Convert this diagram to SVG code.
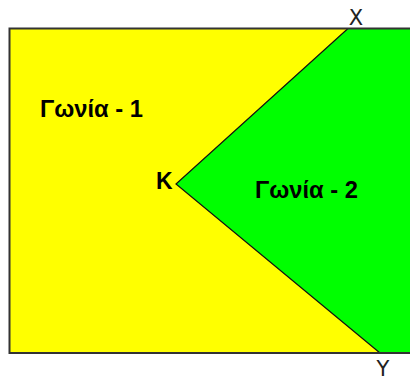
<svg xmlns="http://www.w3.org/2000/svg" width="410" height="383" viewBox="0 0 410 383">
<style>
.lbl{font-family:"Liberation Sans",Arial,sans-serif;font-weight:bold;font-size:23px;fill:#000}
.pt{font-family:"DejaVu Sans",sans-serif;font-weight:normal;font-size:21px;fill:#222}
</style>
<rect width="410" height="383" fill="#fff"/>
<g id="angle1">
<rect x="9.5" y="28.5" width="420" height="324.5" fill="#ffff00"/>
<text class="lbl" x="40" y="117" textLength="103" lengthAdjust="spacingAndGlyphs">Γωνία - 1</text>
</g>
<g id="angle2">
<polygon points="348,28.5 412,28.5 412,353 380,353 176,184" fill="#00ff00"/>
<text class="lbl" x="255" y="198" textLength="103" lengthAdjust="spacingAndGlyphs">Γωνία - 2</text>
</g>
<g id="connectors" fill="none" stroke="#111" stroke-width="1.2">
<polyline points="348,28.5 176,184 380,353"/>
</g>
<g id="frame">
<polyline points="412,28.5 9.5,28.5 9.5,353 412,353" fill="none" stroke="#333" stroke-width="2"/>
</g>
<g id="K"><text class="lbl" x="156" y="189" font-size="24">K</text></g>
<g id="X"><text class="pt" x="356" y="25" text-anchor="middle">X</text></g>
<g id="Y"><text class="pt" x="383" y="376" text-anchor="middle">Y</text></g>
</svg>
